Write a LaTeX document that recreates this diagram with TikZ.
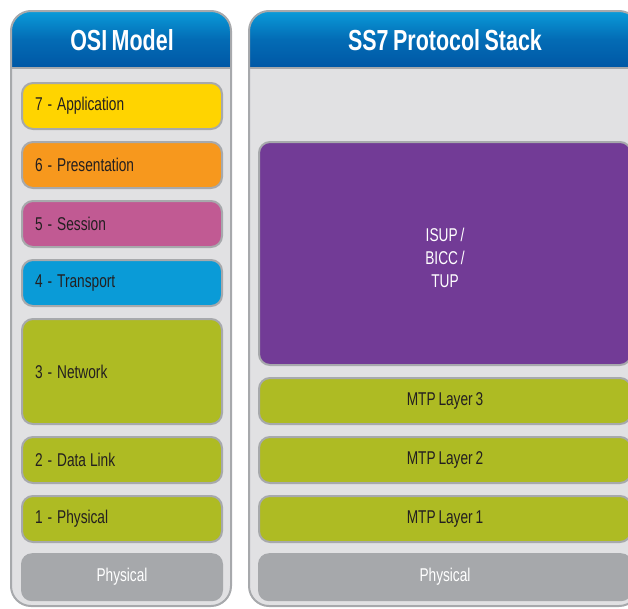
\documentclass[tikz,border=0pt]{standalone}
\usepackage{fontspec}
\setmainfont{Liberation Sans}[FakeStretch=0.74,WordSpace=0.75]
\usepackage{tikz}
\usetikzlibrary{positioning}
\definecolor{Frame}{HTML}{A7A9AC}
\definecolor{Panel}{HTML}{E1E1E3}
\definecolor{HeadTop}{HTML}{0A9BD9}
\definecolor{HeadBot}{HTML}{0057A5}
\definecolor{Appl}{HTML}{FFD400}
\definecolor{Pres}{HTML}{F7981D}
\definecolor{Sess}{HTML}{C15A93}
\definecolor{Trans}{HTML}{0A9BD7}
\definecolor{Olive}{HTML}{AEBB23}
\definecolor{Isup}{HTML}{723B96}
\definecolor{Grey}{HTML}{A6A8AB}
\definecolor{Ink}{HTML}{231F20}
\newcommand{\osilay}[2]{#1\hspace{5pt}-\hspace{5pt}#2}

\begin{document}
\begin{tikzpicture}[x=1pt,y=-1pt,font=\fontsize{18.5}{23}\selectfont,node distance=11pt,
  panel/.style={draw=Frame,line width=2pt,rounded corners=20pt},
  head/.style={text=white,font=\fontsize{29}{31}\selectfont\bfseries},
  layer/.style={draw=Frame,line width=2pt,rounded corners=11pt,minimum height=46pt,inner ysep=0pt,text=Ink},
  osi/.style={layer,inner xsep=13pt,text width=174pt,align=left},
  ss7/.style={layer,minimum width=372pt,align=center},
  phys/.style={draw=none,fill=Grey,rounded corners=11pt,minimum height=48pt,text=white}]
  \useasboundingbox (0,0) rectangle (628,608);

  % panels with blue headers
  \foreach \xa/\xb in {11/231,249/639}{
    \fill[Panel,rounded corners=20pt] (\xa,11) rectangle (\xb,606);
    \begin{scope}
      \clip[rounded corners=20pt] (\xa,11) rectangle (\xb,606);
      \shade[top color=HeadTop,bottom color=HeadBot,middle color=HeadBot!70!HeadTop] (\xa,11) rectangle (\xb,68);
    \end{scope}
    \draw[Frame,line width=2pt] (\xa,68) -- (\xb,68);
    \draw[panel] (\xa,11) rectangle (\xb,606);
  }
  \node[head] (osihead) at (122,40) {OSI Model};
  \node[head] (ss7head) at (445,40) {SS7 Protocol Stack};

  % OSI layers
  \node[osi,fill=Appl,anchor=north west] (app) at (21,82) {\osilay{7}{Application}};
  \node[osi,fill=Pres,below=of app] (pres) {\osilay{6}{Presentation}};
  \node[osi,fill=Sess,below=of pres] (sess) {\osilay{5}{Session}};
  \node[osi,fill=Trans,below=of sess] (trans) {\osilay{4}{Transport}};
  \node[osi,fill=Olive,below=of trans,minimum height=105pt] (net) {\osilay{3}{Network}};
  \node[osi,fill=Olive,below=of net] (link) {\osilay{2}{Data\hspace{4pt}Link}};
  \node[osi,fill=Olive,below=of link] (phy) {\osilay{1}{Physical}};
  \node[phys,minimum width=202pt,below=10pt of phy] (osiphys) {Physical};

  % SS7 stack
  \node[ss7,fill=Isup,anchor=north west,minimum height=223pt,
    label={[text=white,align=center,yshift=-4pt]center:ISUP /\\BICC /\\TUP}] (isup) at (258,141) {};
  \node[ss7,fill=Olive,below=of isup] (mtp3) {MTP Layer 3};
  \node[ss7,fill=Olive,below=of mtp3] (mtp2) {MTP Layer 2};
  \node[ss7,fill=Olive,below=of mtp2] (mtp1) {MTP Layer 1};
  \node[phys,minimum width=374pt,below=10pt of mtp1] (ss7phys) {Physical};
\end{tikzpicture}
\end{document}
